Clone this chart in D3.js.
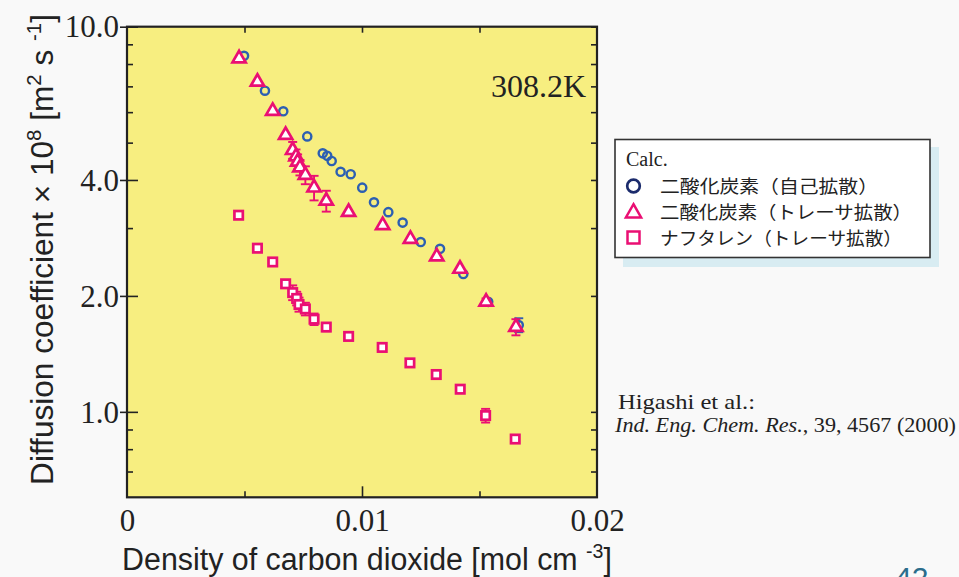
<!DOCTYPE html>
<html>
<head>
<meta charset="utf-8">
<script src="https://cdn.jsdelivr.net/npm/d3@7"></script>
<style>
  html, body { margin: 0; padding: 0; background: #f9f9f9; }
  svg { display: block; }
</style>
</head>
<body>
<svg id="chart" width="959" height="577"></svg>
<script>
// Density of CO2 [mol cm^-3] and diffusion coefficient x 10^8 [m^2 s^-1], 308.2 K
const selfCO2X = [0.00498, 0.00587, 0.00665, 0.00767, 0.00833, 0.00852, 0.00871, 0.00909, 0.00952,
                  0.01001, 0.01051, 0.01112, 0.01173, 0.01250, 0.01332, 0.01431, 0.01537, 0.01667];
const selfCO2Y = [8.40, 6.82, 6.03, 5.19, 4.69, 4.62, 4.48, 4.20, 4.14,
                  3.82, 3.50, 3.30, 3.10, 2.76, 2.65, 2.28, 1.93, 1.68];
const selfCO2Err = [0, 0, 0, 0, 0, 0, 0, 0, 0, 0, 0, 0, 0, 0, 0, 0, 0, 0.07];

const tracerCO2X = [0.00477, 0.00555, 0.00620, 0.00675, 0.00705, 0.00719, 0.00726, 0.00736, 0.00759,
                    0.00796, 0.00848, 0.00943, 0.01088, 0.01206, 0.01318, 0.01417, 0.01528, 0.01655];
const tracerCO2Y = [8.27, 7.19, 6.04, 5.23, 4.78, 4.60, 4.46, 4.31, 4.12,
                    3.82, 3.53, 3.30, 3.05, 2.81, 2.53, 2.35, 1.93, 1.66];
const tracerCO2Err = [0, 0, 0, 0, 0.24, 0.2, 0.2, 0.2, 0.22, 0.28, 0.22, 0, 0, 0, 0, 0, 0.04, 0.08];

const naphX = [0.00475, 0.00555, 0.00620, 0.00675, 0.00705, 0.00722, 0.00732, 0.00759, 0.00796,
               0.00848, 0.00943, 0.01086, 0.01204, 0.01316, 0.01418, 0.01526, 0.01652];
const naphY = [3.24, 2.66, 2.45, 2.15, 2.04, 1.97, 1.90, 1.85, 1.74,
               1.66, 1.57, 1.47, 1.34, 1.25, 1.145, 0.978, 0.850];
const naphErr = [0, 0, 0, 0, 0.09, 0.08, 0.08, 0.07, 0.06, 0.04, 0, 0, 0, 0, 0, 0.04, 0];

const xDomain = [0, 0.02];
const yDomain = [0.6, 10];
const xLabelTicks = [0, 0.01, 0.02];
const xMinorTicks = [0.005, 0.015];
const xMajorInner = [0.01];
const yLabelTicks = [1, 2, 4, 10];
const yMinorTicks = [0.7, 0.8, 0.9, 3, 5, 6, 7, 8, 9];

const legendLabels = ["二酸化炭素（自己拡散）", "二酸化炭素（トレーサ拡散）", "ナフタレン（トレーサ拡散）"];
const legendTitle = "Calc.";
const tempLabel = "308.2K";
const citeLine1 = "Higashi et al.:";
const citeJournal = "Ind. Eng. Chem. Res.";
const citeRest = ", 39, 4567 (2000)";
const pageNo = "42";

// ---- drawing ----
const svg = d3.select("#chart");
const plot = { left: 127, top: 26.7, right: 597, bottom: 497.3 };
const PINK = "#ea0f73", BLUE = "#2c5fb2", NAVY = "#1b2b6c", INK = "#222";
const serif = "'Liberation Serif', 'Times New Roman', serif";
const sans = "'Liberation Sans Narrow', 'Liberation Sans', 'DejaVu Sans', sans-serif";
const cjk = "'Noto Sans CJK JP', 'Noto Sans CJK SC', sans-serif";

const x = d3.scaleLinear().domain(xDomain).range([plot.left, plot.right]);
const y = d3.scaleLog().domain(yDomain).range([plot.bottom, plot.top]);

svg.append("rect")
  .attr("x", plot.left).attr("y", plot.top)
  .attr("width", plot.right - plot.left).attr("height", plot.bottom - plot.top)
  .attr("fill", "#f7ee80");

function styleAxis(g) {
  g.select(".domain").remove();
  g.selectAll(".tick line").attr("stroke", INK).attr("stroke-width", 1.6);
}

// bottom axis
svg.append("g").attr("transform", `translate(0,${plot.bottom})`)
  .call(d3.axisBottom(x).tickValues(xMinorTicks).tickSize(-6).tickFormat(""))
  .call(styleAxis);
svg.append("g").attr("transform", `translate(0,${plot.bottom})`)
  .call(d3.axisBottom(x).tickValues(xMajorInner).tickSize(-11).tickFormat(""))
  .call(styleAxis);
const xLab = svg.append("g").attr("transform", `translate(0,${plot.bottom})`)
  .call(d3.axisBottom(x).tickValues(xLabelTicks).tickSize(0)
    .tickFormat(d => d === 0 ? "0" : d3.format(".2f")(d)))
  .call(styleAxis);
xLab.selectAll("text").attr("y", 34).attr("dy", 0)
  .attr("font-family", serif).attr("font-size", 31).attr("fill", INK);

// top axis
svg.append("g").attr("transform", `translate(0,${plot.top})`)
  .call(d3.axisTop(x).tickValues(xMinorTicks.concat(xMajorInner)).tickSize(-6).tickFormat(""))
  .call(styleAxis);

// left axis
svg.append("g").attr("transform", `translate(${plot.left},0)`)
  .call(d3.axisLeft(y).tickValues(yMinorTicks).tickSize(-6).tickFormat(""))
  .call(styleAxis);
svg.append("g").attr("transform", `translate(${plot.left},0)`)
  .call(d3.axisLeft(y).tickValues(yLabelTicks).tickSize(-11).tickFormat(""))
  .call(styleAxis);
const yLab = svg.append("g").attr("transform", `translate(${plot.left},0)`)
  .call(d3.axisLeft(y).tickValues(yLabelTicks).tickSize(7).tickPadding(1).tickFormat(d3.format(".1f")))
  .call(styleAxis);
yLab.selectAll("text").attr("font-family", serif).attr("font-size", 31).attr("fill", INK)
  .attr("dy", "0.33em");

// right axis
svg.append("g").attr("transform", `translate(${plot.right},0)`)
  .call(d3.axisRight(y).tickValues(yMinorTicks.concat(yLabelTicks)).tickSize(-6).tickFormat(""))
  .call(styleAxis);

// frame
svg.append("rect")
  .attr("x", plot.left).attr("y", plot.top)
  .attr("width", plot.right - plot.left).attr("height", plot.bottom - plot.top)
  .attr("fill", "none").attr("stroke", INK).attr("stroke-width", 2.2);

// error bars
function errorBars(xs, ys, es, color) {
  const pts = xs.map((v, i) => ({ x: v, y: ys[i], e: es[i] })).filter(d => d.e > 0);
  const g = svg.append("g").attr("stroke", color).attr("stroke-width", 1.9).attr("fill", "none");
  pts.forEach(d => {
    const cx = x(d.x), y1 = y(d.y + d.e), y2 = y(d.y - d.e);
    g.append("line").attr("x1", cx).attr("x2", cx).attr("y1", y1).attr("y2", y2);
    g.append("line").attr("x1", cx - 4.5).attr("x2", cx + 4.5).attr("y1", y1).attr("y2", y1);
    g.append("line").attr("x1", cx - 4.5).attr("x2", cx + 4.5).attr("y1", y2).attr("y2", y2);
  });
}
errorBars(selfCO2X, selfCO2Y, selfCO2Err, BLUE);

// self-diffusion circles
svg.append("g").selectAll("circle")
  .data(selfCO2X.map((v, i) => [v, selfCO2Y[i]]))
  .join("circle")
  .attr("cx", d => x(d[0])).attr("cy", d => y(d[1])).attr("r", 4.1)
  .attr("fill", "none").attr("stroke", BLUE).attr("stroke-width", 2.4);

errorBars(tracerCO2X, tracerCO2Y, tracerCO2Err, PINK);
errorBars(naphX, naphY, naphErr, PINK);

// tracer CO2 triangles
const tri = d3.symbol().type(d3.symbolTriangle).size(76);
svg.append("g").selectAll("path")
  .data(tracerCO2X.map((v, i) => [v, tracerCO2Y[i]]))
  .join("path")
  .attr("d", tri)
  .attr("transform", d => `translate(${x(d[0])},${y(d[1])})`)
  .attr("fill", "#fff").attr("stroke", PINK).attr("stroke-width", 2.7).attr("stroke-linejoin", "miter");

// naphthalene squares
svg.append("g").selectAll("rect")
  .data(naphX.map((v, i) => [v, naphY[i]]))
  .join("rect")
  .attr("x", d => x(d[0]) - 4.2).attr("y", d => y(d[1]) - 4.2)
  .attr("width", 8.4).attr("height", 8.4)
  .attr("fill", "#fff").attr("stroke", PINK).attr("stroke-width", 2.7);

// temperature annotation
svg.append("text").attr("x", 586).attr("y", 97)
  .attr("text-anchor", "end").attr("font-family", serif).attr("font-size", 32).attr("fill", INK)
  .text(tempLabel);

// condensed sans titles: squeeze horizontally to the span they occupy
function squeeze(textSel, span, baseTransform) {
  const w = textSel.node().getComputedTextLength();
  textSel.attr("transform", `${baseTransform} scale(${span / w},1)`);
}

const xt = svg.append("text").attr("x", 0).attr("y", 0)
  .attr("text-anchor", "middle").attr("font-family", sans).attr("font-size", 31).attr("fill", INK);
xt.append("tspan").text("Density of carbon dioxide [mol cm ");
xt.append("tspan").attr("dy", -12).attr("font-size", 20).text("-3");
xt.append("tspan").attr("dy", 12).text("]");
squeeze(xt, 490, "translate(367,569.5)");

const yt = svg.append("text").attr("x", 0).attr("y", 0)
  .attr("text-anchor", "middle").attr("font-family", sans).attr("font-size", 31).attr("fill", INK);
yt.append("tspan").text("Diffusion coefficient × 10");
yt.append("tspan").attr("dy", -12).attr("font-size", 20).text("8");
yt.append("tspan").attr("dy", 12).text(" [m");
yt.append("tspan").attr("dy", -12).attr("font-size", 20).text("2");
yt.append("tspan").attr("dy", 12).text(" s ");
yt.append("tspan").attr("dy", -12).attr("font-size", 20).text("-1");
yt.append("tspan").attr("dy", 12).text("]");
squeeze(yt, 471, "translate(53,249.5) rotate(-90)");

// legend
const lg = svg.append("g");
lg.append("rect").attr("x", 623).attr("y", 147).attr("width", 316).attr("height", 120).attr("fill", "#d8ecf2");
lg.append("rect").attr("x", 615).attr("y", 139.5).attr("width", 315).attr("height", 118)
  .attr("fill", "#fff").attr("stroke", "#333").attr("stroke-width", 1.6);
lg.append("text").attr("x", 626).attr("y", 166).attr("font-family", serif).attr("font-size", 20)
  .attr("fill", INK).text(legendTitle);
const rowY = [186, 212, 237.5];
const rowW = [218, 252, 242];
lg.append("circle").attr("cx", 633.5).attr("cy", rowY[0]).attr("r", 6.3)
  .attr("fill", "none").attr("stroke", NAVY).attr("stroke-width", 2.7);
lg.append("path").attr("d", d3.symbol().type(d3.symbolTriangle).size(100))
  .attr("transform", `translate(633.5,${rowY[1] + 1})`)
  .attr("fill", "none").attr("stroke", PINK).attr("stroke-width", 2.5);
lg.append("rect").attr("x", 627.5).attr("y", rowY[2] - 6).attr("width", 12).attr("height", 12)
  .attr("fill", "none").attr("stroke", PINK).attr("stroke-width", 2.5);
legendLabels.forEach((t, i) => {
  lg.append("text").attr("x", 660).attr("y", rowY[i] + 7)
    .attr("font-family", cjk).attr("font-size", 18).attr("fill", INK)
    .attr("textLength", rowW[i]).attr("lengthAdjust", "spacingAndGlyphs")
    .text(t);
});

// reference
svg.append("text").attr("x", 618).attr("y", 408.5).attr("font-family", serif)
  .attr("font-size", 21).attr("fill", INK)
  .attr("textLength", 137).attr("lengthAdjust", "spacingAndGlyphs").text(citeLine1);
const c2 = svg.append("text").attr("x", 615).attr("y", 432).attr("font-family", serif)
  .attr("font-size", 21).attr("fill", INK)
  .attr("textLength", 341).attr("lengthAdjust", "spacingAndGlyphs");
c2.append("tspan").attr("font-style", "italic").text(citeJournal);
c2.append("tspan").text(citeRest);

// page number
svg.append("text").attr("x", 895).attr("y", 588).attr("font-family", sans)
  .attr("font-size", 30).attr("fill", "#2b6d8c").text(pageNo);
</script>
</body>
</html>
